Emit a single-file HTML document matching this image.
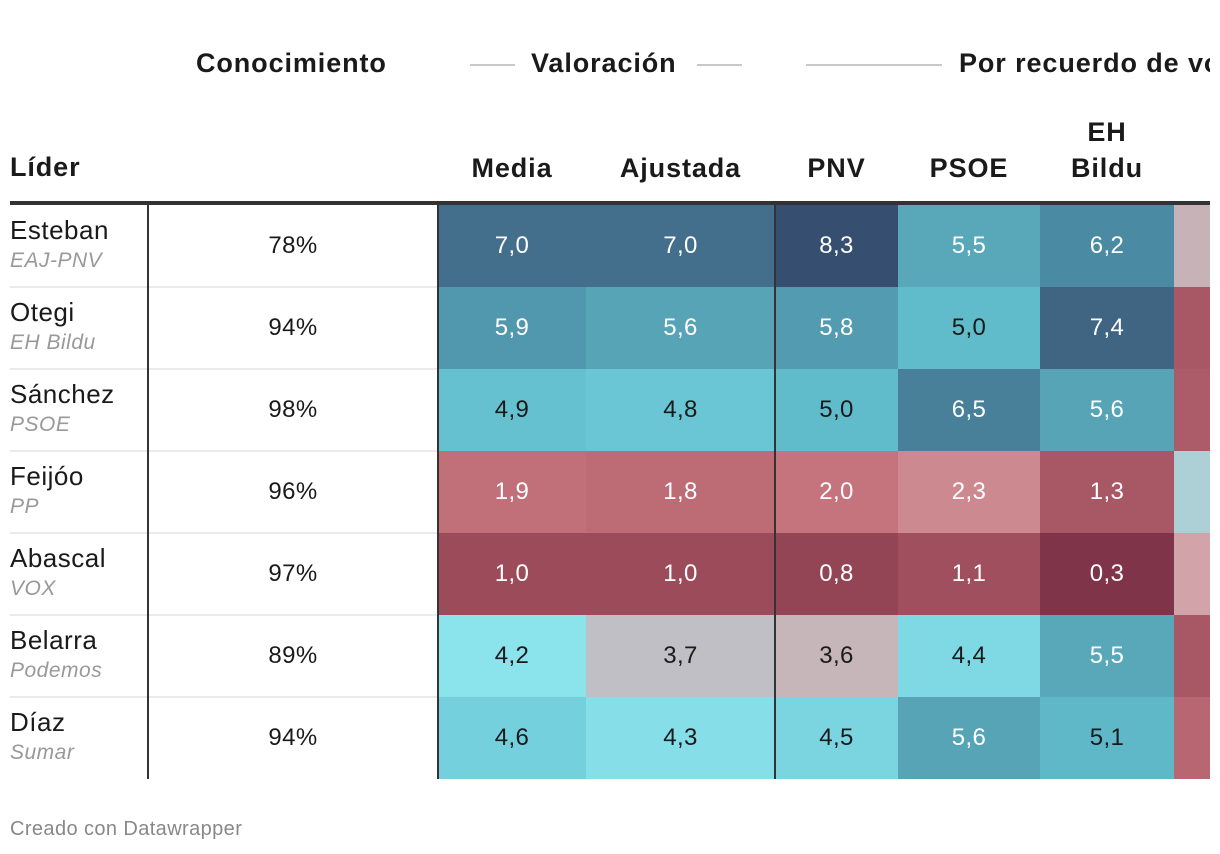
<!DOCTYPE html>
<html><head><meta charset="utf-8">
<style>
html,body{margin:0;padding:0;background:#fff;width:1220px;height:854px;overflow:hidden;font-family:"Liberation Sans",sans-serif;color:#1a1a1a}
#wrap{position:relative;width:1220px;height:854px;overflow:hidden}
.a{position:absolute;white-space:nowrap}
.h{font-weight:bold;font-size:27px;letter-spacing:0.9px}
.cell{position:absolute;display:flex;align-items:center;justify-content:center;font-size:24px;letter-spacing:0.4px}
.line{position:absolute;background:#c8c8c8;height:2px}
</style></head><body>
<div id="wrap">
  <div class="a h" style="left:196px;top:48px">Conocimiento</div>
  <div class="line" style="left:470px;top:64px;width:45px"></div>
  <div class="a h" style="left:531px;top:48px">Valoración</div>
  <div class="line" style="left:697px;top:64px;width:45px"></div>
  <div class="line" style="left:806px;top:64px;width:136px"></div>
  <div class="a h" style="left:959px;top:48px">Por recuerdo de voto</div>
  <div class="a h" style="left:10px;top:152px">Líder</div>
  <div class="a" style="left:10px;top:201px;width:1200px;height:4px;background:#333"></div>
  <div class="a" style="left:10px;top:818px;font-size:20px;letter-spacing:0.4px;color:#888">Creado con Datawrapper</div>
</div>
<script>
const leaders=["Esteban","Otegi","Sánchez","Feijóo","Abascal","Belarra","Díaz"];
const parties=["EAJ-PNV","EH Bildu","PSOE","PP","VOX","Podemos","Sumar"];
const conocimiento=["78%","94%","98%","96%","97%","89%","94%"];
const colNames=["Media","Ajustada","PNV","PSOE","EH|Bildu","P"];
const media=[7.0,5.9,4.9,1.9,1.0,4.2,4.6];
const ajustada=[7.0,5.6,4.8,1.8,1.0,3.7,4.3];
const pnv=[8.3,5.8,5.0,2.0,0.8,3.6,4.5];
const psoe=[5.5,5.0,6.5,2.3,1.1,4.4,5.6];
const bildu=[6.2,7.4,5.6,1.3,0.3,5.5,5.1];
const otro=[3.5,1.3,1.4,3.9,2.7,1.3,1.7];
const series=[media,ajustada,pnv,psoe,bildu,otro];

const colX=[438,586,775,898,1040,1174,1290];
const rowY0=205,rowH=82;
const stops=[[0.3,[127,52,74]],[1.0,[155,75,90]],[2.0,[197,115,124]],[2.3,[204,138,144]],[2.7,[211,163,170]],[3.6,[198,181,185]],[3.7,[192,191,197]],[3.9,[173,207,214]],[4.2,[139,227,236]],[4.6,[116,208,220]],[5.0,[96,188,203]],[5.6,[87,164,182]],[6.2,[75,138,163]],[7.0,[67,111,140]],[8.3,[54,79,112]]];
function color(v){
  if(v<=stops[0][0])return "rgb("+stops[0][1]+")";
  for(let i=1;i<stops.length;i++){
    if(v<=stops[i][0]){const t=(v-stops[i-1][0])/(stops[i][0]-stops[i-1][0]);
      const c=stops[i-1][1].map((a,k)=>Math.round(a+(stops[i][1][k]-a)*t));return "rgb("+c+")";}
  }
  return "rgb("+stops[stops.length-1][1]+")";
}
const wrap=document.getElementById('wrap');
colNames.forEach((n,i)=>{
  const d=document.createElement('div');
  d.className='a h';
  const parts=n.split('|');
  d.innerHTML=parts.join('<br>');
  d.style.textAlign='center';d.style.lineHeight='36px';
  d.style.left=colX[i]+'px';d.style.width=(colX[i+1]-colX[i])+'px';
  d.style.top=(parts.length>1?114:150)+'px';
  
  
  wrap.appendChild(d);
});
leaders.forEach((l,r)=>{
  const y=rowY0+r*rowH;
  const n=document.createElement('div');n.className='a';
  n.style.left='10px';n.style.top=(y+10)+'px';n.style.fontSize='26px';n.style.letterSpacing='0.5px';n.textContent=l;
  
  
  wrap.appendChild(n);
  const p=document.createElement('div');p.className='a';
  p.style.left='10px';p.style.top=(y+44)+'px';p.style.fontSize='21px';p.style.letterSpacing='0.5px';p.style.fontStyle='italic';p.style.color='#999';p.textContent=parties[r];
  
  
  wrap.appendChild(p);
  const c=document.createElement('div');c.className='cell';
  c.style.left='148px';c.style.width='290px';c.style.top=y+'px';c.style.height=rowH+'px';c.textContent=conocimiento[r];
  
  
  wrap.appendChild(c);
  if(r>0){const s=document.createElement('div');s.className='a';
    s.style.left='10px';s.style.width='428px';s.style.top=(y-1)+'px';s.style.height='2px';s.style.background='#ebebeb';
    
    
    wrap.appendChild(s);}
  series.forEach((arr,ci)=>{
    const v=arr[r];
    const e=document.createElement('div');e.className='cell';
    e.style.left=colX[ci]+'px';e.style.width=(colX[ci+1]-colX[ci])+'px';
    e.style.top=y+'px';e.style.height=rowH+'px';e.style.background=color(v);
    e.style.color=(v>5.2||v<=2.4)?'#fff':'#1a1a1a';
    e.textContent=v.toFixed(1).replace('.',',');
    
    
    wrap.appendChild(e);
  });
});
[[148,'#333'],[438,'#333'],[775,'#333']].forEach(([x,c])=>{
  const v=document.createElement('div');v.className='a';
  v.style.left=(x-1)+'px';v.style.width='2px';v.style.top='205px';v.style.height=(rowH*7)+'px';v.style.background=c;
  
  
  wrap.appendChild(v);
});
const mask=document.createElement('div');mask.className='a';
mask.style.left='1210px';mask.style.top='0px';mask.style.width='10px';mask.style.height='854px';mask.style.background='#fff';


wrap.appendChild(mask);
</script>
</body></html>
